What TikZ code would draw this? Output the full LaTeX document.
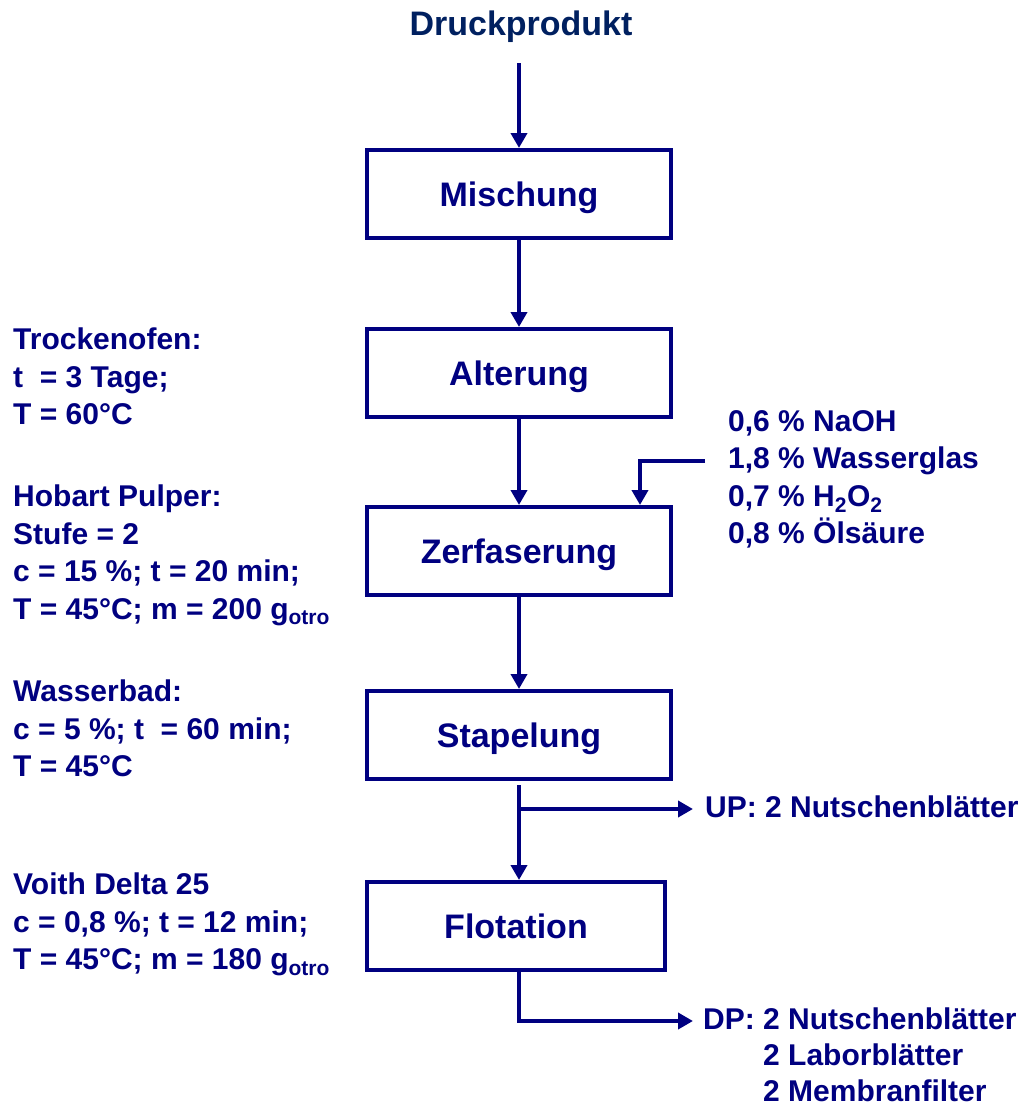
\documentclass[tikz,border=0pt]{standalone}
\usepackage{fontspec}
\setmainfont{Liberation Sans}
\usetikzlibrary{arrows.meta}
\definecolor{flow}{RGB}{0,0,128}
\definecolor{product}{RGB}{0,32,96}
\newcommand{\boxfont}{\fontsize{34}{40}\selectfont\bfseries}
\newcommand{\notefont}{\fontsize{30}{37.5}\selectfont\bfseries}
\tikzstyle{stage}=[draw=flow, line width=4pt, minimum width=304pt, minimum height=88pt, inner sep=0pt, text depth=0pt, text=flow, font=\boxfont]
\tikzstyle{note}=[anchor=north west, align=left, inner sep=0pt, text=flow, font=\notefont]
\tikzstyle{flowline}=[draw=flow, line width=4pt, -{Triangle[length=15pt,width=16pt]}]

\begin{document}
\begin{tikzpicture}[x=1pt,y=-1pt]
  \useasboundingbox (0,0) rectangle (1032,1112);
  \draw (521,27) node[inner sep=0pt, text=product, font=\boxfont] (druck) {Druckprodukt};

  \draw (519,194) node[stage] (misch) {Mischung};
  \draw (519,373) node[stage] (alter) {Alterung};
  \draw (519,551) node[stage] (zerf) {Zerfaserung};
  \draw (519,735) node[stage] (stapel) {Stapelung};
  \draw (516,926) node[stage, minimum width=298pt] (flot) {Flotation};

  %% Conditions on the left
  \draw (13,328) node[note] (ofen) {Trockenofen:\\t~~= 3 Tage;\\T = 60°C};
  \draw (13,485) node[note] (pulper) {Hobart Pulper:\\Stufe = 2\\c = 15 \%; t = 20 min;\\T = 45°C; m = 200 g\textsubscript{otro}};
  \draw (13,680) node[note] (bad) {Wasserbad:\\c = 5 \%; t~~= 60 min;\\T = 45°C};
  \draw (13,873) node[note] (voith) {Voith Delta 25\\c = 0,8 \%; t = 12 min;\\T = 45°C; m = 180 g\textsubscript{otro}};

  %% Chemicals and samples on the right
  \draw (728,410) node[note] (chem) {0,6 \% NaOH\\1,8 \% Wasserglas\\0,7 \% H\textsubscript{2}O\textsubscript{2}\\0,8 \% Ölsäure};
  \draw (705,817) node[note, anchor=base west] (up) {UP: 2 Nutschenblätter};
  \draw (703,1008) node[note, font=\fontsize{30}{36}\selectfont\bfseries] (dp) {DP: 2 Nutschenblätter\\\hphantom{DP: }2 Laborblätter\\\hphantom{DP: }2 Membranfilter};

  \coordinate (chemjoin) at (640,461);
  \coordinate (upjoin) at (519,809);
  \coordinate (dpjoin) at (519,1021);

  %% Main line
  \draw[flowline, shorten <=20pt] (druck.south -| misch.north) -- (misch);
  \draw[flowline] (misch) -- (alter);
  \draw[flowline] (alter) -- (zerf);
  \draw[flowline] (zerf) -- (stapel);
  \draw[flowline, shorten <=4pt] (stapel.south) -- (stapel.south |- flot.north);

  %% Branches
  \draw[flowline] ([xshift=-23pt]chem.west |- chemjoin) -- (chemjoin) -- (chemjoin |- zerf.north);
  \draw[flowline] (upjoin) -- ([xshift=-12pt]upjoin -| up.west);
  \draw[flowline] (flot.south -| dpjoin) -- (dpjoin) -- ([xshift=-10pt]dpjoin -| dp.west);
\end{tikzpicture}
\end{document}
